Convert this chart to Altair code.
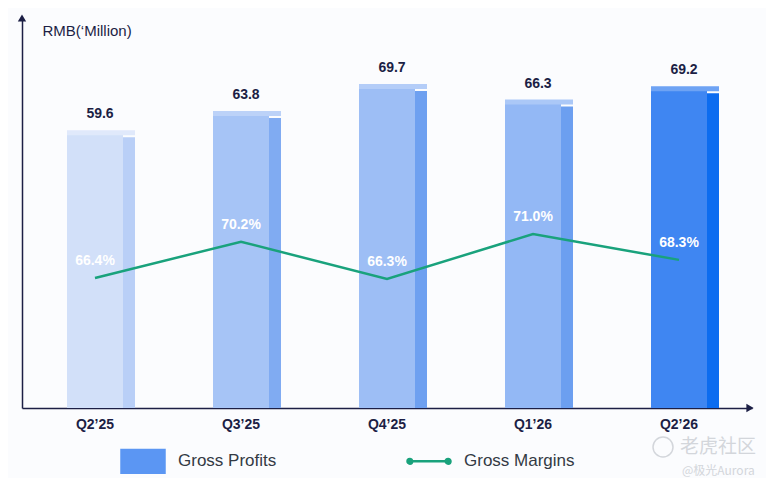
"""Gross profits (bars) and gross margins (line) by quarter."""

import altair as alt
import pandas as pd

QUARTERS = ["Q2’25", "Q3’25", "Q4’25", "Q1’26", "Q2’26"]
GROSS_PROFITS = [59.6, 63.8, 69.7, 66.3, 69.2]
GROSS_MARGINS = [0.664, 0.702, 0.663, 0.710, 0.683]
LEGEND_ITEMS = ["Gross Profits", "Gross Margins"]
WATERMARK = ["老虎社区", "@极光Aurora"]

# bar faces: front / side / top, light to saturated
FRONT = ["#d2e0f9", "#a6c4f6", "#9dbef5", "#93b8f5", "#3f86f2"]
SIDE = ["#b9cff7", "#80abf2", "#6ea0f0", "#6c9ff0", "#0c6cf0"]
TOP = ["#e0e9fb", "#bcd2f8", "#b4cdf8", "#abc8f7", "#6ea3f4"]
NAVY = "#1c1f45"
TEAL = "#19a27c"
GREY = "#d3d6db"
FONT = "Liberation Sans"

RECT_PATH = "M-1,-0.53H1V0.53H-1Z"
# leading moves keep the symbol's bounds as tall as the rectangle
LINE_PATH = (
    "M0,-0.53M0,0.53"
    "M-1,0a0.11,0.11 0 1,0 0.22,0a0.11,0.11 0 1,0 -0.22,0"
    "M-0.9,0H0.9"
    "M0.78,0a0.11,0.11 0 1,0 0.22,0a0.11,0.11 0 1,0 -0.22,0"
)

df = pd.DataFrame({"quarter": QUARTERS, "profit": GROSS_PROFITS, "margin": GROSS_MARGINS})

x = alt.X(
    "quarter:N", sort=QUARTERS, title=None,
    scale=alt.Scale(paddingInner=0, paddingOuter=0),
    axis=alt.Axis(
        domainColor=NAVY, domainWidth=1.5, ticks=False, labelAngle=0,
        labelFont=FONT, labelFontWeight="bold", labelFontSize=14,
        labelColor=NAVY, labelPadding=9,
    ),
)
y_profit = alt.Y(
    "profit:Q", scale=alt.Scale(domain=[0, 84.5], nice=False, zero=False),
    axis=alt.Axis(
        domainColor=NAVY, domainWidth=1.5, ticks=False, labels=False, grid=False,
        title="RMB(‘Million)", titleAngle=0, titleAlign="left", titleBaseline="middle",
        titleX=20, titleY=10, titleFont=FONT, titleFontSize=15,
        titleFontWeight="normal", titleColor=NAVY,
    ),
)


def face_color(colors):
    return alt.Color("quarter:N", scale=alt.Scale(domain=QUARTERS, range=colors), legend=None)


base = alt.Chart(df).encode(x=x)

front = base.mark_bar(width=56).encode(y=y_profit, y2=alt.datum(0), color=face_color(FRONT))
side = base.mark_bar(width=12, xOffset=34, yOffset=3).encode(
    y="profit:Q", y2=alt.datum(0), color=face_color(SIDE)
)
top = base.mark_bar(width=68, xOffset=6, yOffset=-4, y2Offset=1).encode(
    y="profit:Q", y2="profit:Q", color=face_color(TOP)
)
values = base.mark_text(
    font=FONT, fontWeight="bold", fontSize=14, color=NAVY, dy=-20, dx=5, baseline="middle"
).encode(y="profit:Q", text=alt.Text("profit:Q", format=".1f"))

bars = alt.layer(front, side, top, values).resolve_scale(color="independent")

y_margin = alt.Y(
    "margin:Q", scale=alt.Scale(domain=[0.5283, 0.9335], nice=False, zero=False), axis=None
)
line = base.mark_line(color=TEAL, strokeWidth=2.5).encode(y=y_margin)
margin_labels = base.mark_text(
    font=FONT, fontWeight="bold", fontSize=14, color="white", dy=-17, baseline="middle"
).encode(y=y_margin, text=alt.Text("margin:Q", format=".1%"))

# axis arrowheads
arrow_up = alt.Chart(df.head(1)).mark_point(
    filled=True, color=NAVY, opacity=1, size=70, shape="triangle-up"
).encode(x=alt.value(0), y=alt.value(-2))
arrow_right = alt.Chart(df.head(1)).mark_point(
    filled=True, color=NAVY, opacity=1, size=70, shape="triangle-right"
).encode(x=alt.value(728), y=alt.value(388))

legend_scale = alt.Scale(domain=LEGEND_ITEMS, range=["#5b96f3", TEAL])
legend_def = alt.Legend(
    title=None, orient="none", legendX=98, legendY=418, direction="horizontal",
    symbolSize=1849, symbolOpacity=1, symbolStrokeWidth=2.5,
    labelFont=FONT, labelFontSize=17, labelColor="#333a44",
    labelOffset=12, columnPadding=125,
)
legend = alt.Chart(pd.DataFrame({"series": LEGEND_ITEMS})).mark_point(opacity=0).encode(
    x=alt.value(0),
    y=alt.value(0),
    fill=alt.Fill("series:N", scale=legend_scale, legend=legend_def),
    stroke=alt.Stroke("series:N", scale=legend_scale, legend=legend_def),
    shape=alt.Shape("series:N", scale=alt.Scale(domain=LEGEND_ITEMS, range=[RECT_PATH, LINE_PATH]),
                    legend=legend_def),
)

wm_logo = alt.Chart(df.head(1)).mark_point(
    shape="circle", size=400, color=GREY, strokeWidth=1.5, opacity=1
).encode(x=alt.value(641), y=alt.value(427))
wm_big = alt.Chart(df.head(1)).mark_text(
    text=WATERMARK[0], font="Noto Sans CJK SC", fontSize=19, color=GREY,
    align="left", baseline="middle",
).encode(x=alt.value(658), y=alt.value(427))
wm_small = alt.Chart(df.head(1)).mark_text(
    text=WATERMARK[1], font="Noto Sans CJK SC", fontSize=12, color=GREY,
    align="left", baseline="middle",
).encode(x=alt.value(660), y=alt.value(451))

chart = (
    alt.layer(bars, line + margin_labels, arrow_up, arrow_right, legend,
              wm_logo, wm_big, wm_small)
    .resolve_scale(y="independent", color="independent")
    .properties(
        width=730, height=388,
        padding={"left": 14, "top": 12, "right": 14, "bottom": 70},
        autosize=alt.AutoSizeParams(type="none"),
        background="#fbfcfe",
    )
    .configure_view(stroke=None)
)

chart.save("out.html", embed_options={"renderer": "svg", "actions": False})
